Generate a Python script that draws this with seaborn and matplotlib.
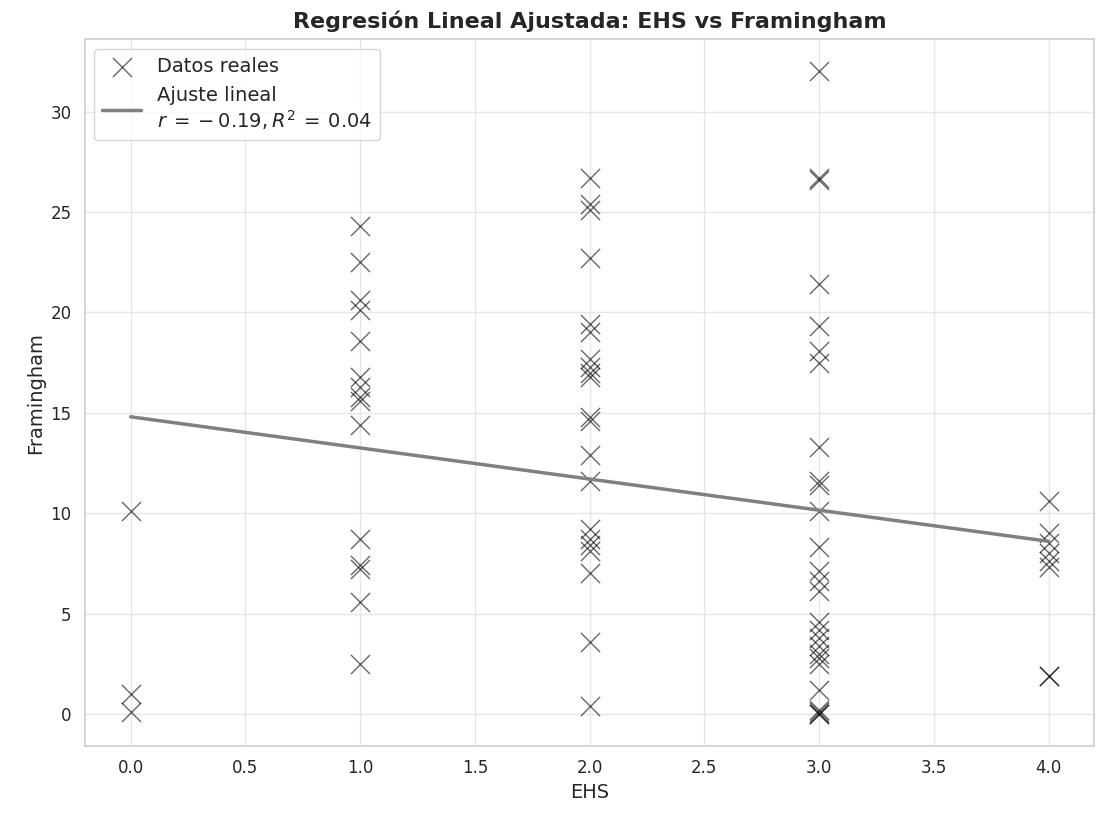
import numpy as np
import pandas as pd
import seaborn as sns
import matplotlib
matplotlib.use('Agg')
import matplotlib.pyplot as plt

# Values, grouped by EHS score.
ehs_0 = [10.1, 1.0, 0.1]
ehs_1 = [24.3, 22.5, 20.6, 20.1, 18.6, 16.8, 16.3, 15.8, 15.6, 14.4,
         8.7, 7.4, 7.2, 5.6, 2.5]
ehs_2 = [26.7, 25.4, 25.1, 22.7, 19.4, 19.0, 17.7, 17.3, 17.0, 16.8,
         14.8, 14.6, 12.9, 11.6, 9.2, 8.7, 8.4, 8.1, 7.0, 3.6, 0.4]
ehs_3 = [32.0, 26.7, 26.6, 21.4, 19.3, 18.1, 17.5, 13.3, 11.6, 11.4,
         10.1, 8.3, 7.1, 6.6, 6.1, 4.6, 4.2, 3.8, 3.4, 3.0, 2.8, 2.5,
         1.2, 0.0, 0.0, 0.1, 0.2]
ehs_4 = [10.6, 9.0, 8.5, 8.0, 7.6, 7.3, 1.9, 1.9]

# Fit as printed in the original legend / drawn line.
fit_intercept = 14.8
fit_slope = -1.55
fit_r = -0.19
fit_r2 = 0.04

groups = {0: ehs_0, 1: ehs_1, 2: ehs_2, 3: ehs_3, 4: ehs_4}
df = pd.DataFrame(
    [(k, v) for k, vals in groups.items() for v in vals],
    columns=['EHS', 'Framingham'],
)
df['fit'] = fit_intercept + fit_slope * df['EHS']

sns.set_theme(style='whitegrid', rc={'grid.color': '#e6e6e6',
                                     'axes.edgecolor': '#d0d0d0'})
plt.rcParams['font.family'] = ['DejaVu Sans']

fig, ax = plt.subplots(figsize=(11.01, 8.19), dpi=100)
fig.subplots_adjust(left=0.077, right=0.994, bottom=0.089, top=0.952)

sns.scatterplot(data=df, x='EHS', y='Framingham', marker='x', s=190,
                color='black', alpha=0.6, linewidth=1.0,
                label='Datos reales', ax=ax)
sign = '-' if fit_r < 0 else ''
fit_label = ('Ajuste lineal\n'
             rf'$r\:=\:{sign}\:{abs(fit_r):.2f},R^2\:=\:{fit_r2:.2f}$')
sns.lineplot(data=df, x='EHS', y='fit', color='gray', linewidth=2.5,
             errorbar=None, label=fit_label, ax=ax)

ax.set_title('Regresión Lineal Ajustada: EHS vs Framingham',
             fontsize=16, fontweight='bold', pad=8)
ax.set_xlabel('EHS', fontsize=14)
ax.set_ylabel('Framingham', fontsize=14)
ax.tick_params(labelsize=12)
ax.legend(loc='upper left', fontsize=14)

fig.savefig('out.png', dpi=100)
